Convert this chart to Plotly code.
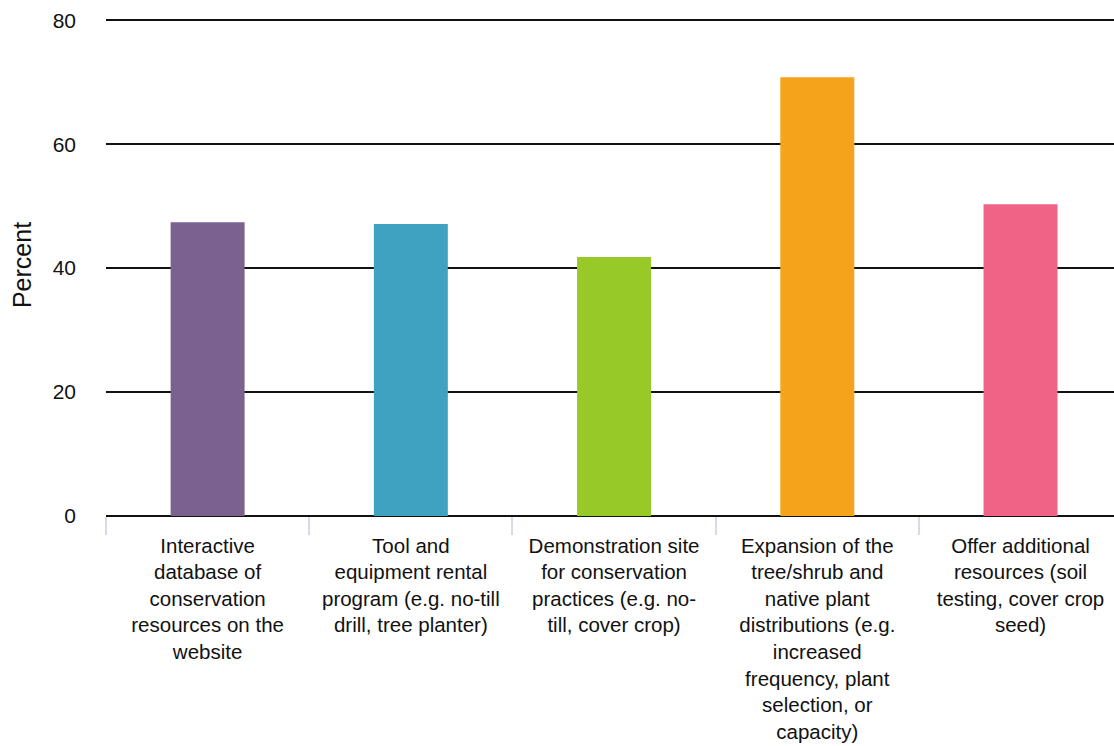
import plotly.graph_objects as go

categories = [
    "Interactive<br>database of<br>conservation<br>resources on the<br>website",
    "Tool and<br>equipment rental<br>program (e.g. no-till<br>drill, tree planter)",
    "Demonstration site<br>for conservation<br>practices (e.g. no-<br>till, cover crop)",
    "Expansion of the<br>tree/shrub and<br>native plant<br>distributions (e.g.<br>increased<br>frequency, plant<br>selection, or<br>capacity)",
    "Offer additional<br>resources (soil<br>testing, cover crop<br>seed)",
]
values = [47.4, 47.1, 41.8, 70.8, 50.3]
colors = ["#7B618F", "#3FA2C1", "#97C928", "#F4A31A", "#F06386"]
y_ticks = [0, 20, 40, 60, 80]

fig = go.Figure(go.Bar(x=categories, y=values, marker=dict(color=colors, line=dict(width=0)),
                       showlegend=False))

fig.update_layout(
    width=1114, height=746,
    margin=dict(l=106, r=0, t=14, b=230),
    paper_bgcolor="white", plot_bgcolor="white",
    bargap=0.636,
    font=dict(family="Liberation Sans, Arial, sans-serif", color="#111"),
)
fig.update_xaxes(
    range=[-0.5, 4.46], automargin=False,
    tickson="boundaries", ticks="outside", ticklen=18, tickwidth=2, tickcolor="#D6DAEE",
    tickfont=dict(size=20.5, color="#111"), tickangle=0,
    ticklabelstandoff=15,
    showline=False, showgrid=False,
)
fig.update_yaxes(
    range=[0, 81], tickvals=y_ticks, automargin=False,
    showgrid=True, gridcolor="#111", gridwidth=2,
    zeroline=True, zerolinecolor="#111", zerolinewidth=2,
    tickfont=dict(size=21, color="#111"),
    ticklabelstandoff=29,
    title=dict(text="Percent", font=dict(size=25, color="#111"), standoff=13),
)

fig.write_html("out.html", config={"displayModeBar": False},
               post_script="document.body.style.margin='0';document.body.style.overflow='hidden';")
